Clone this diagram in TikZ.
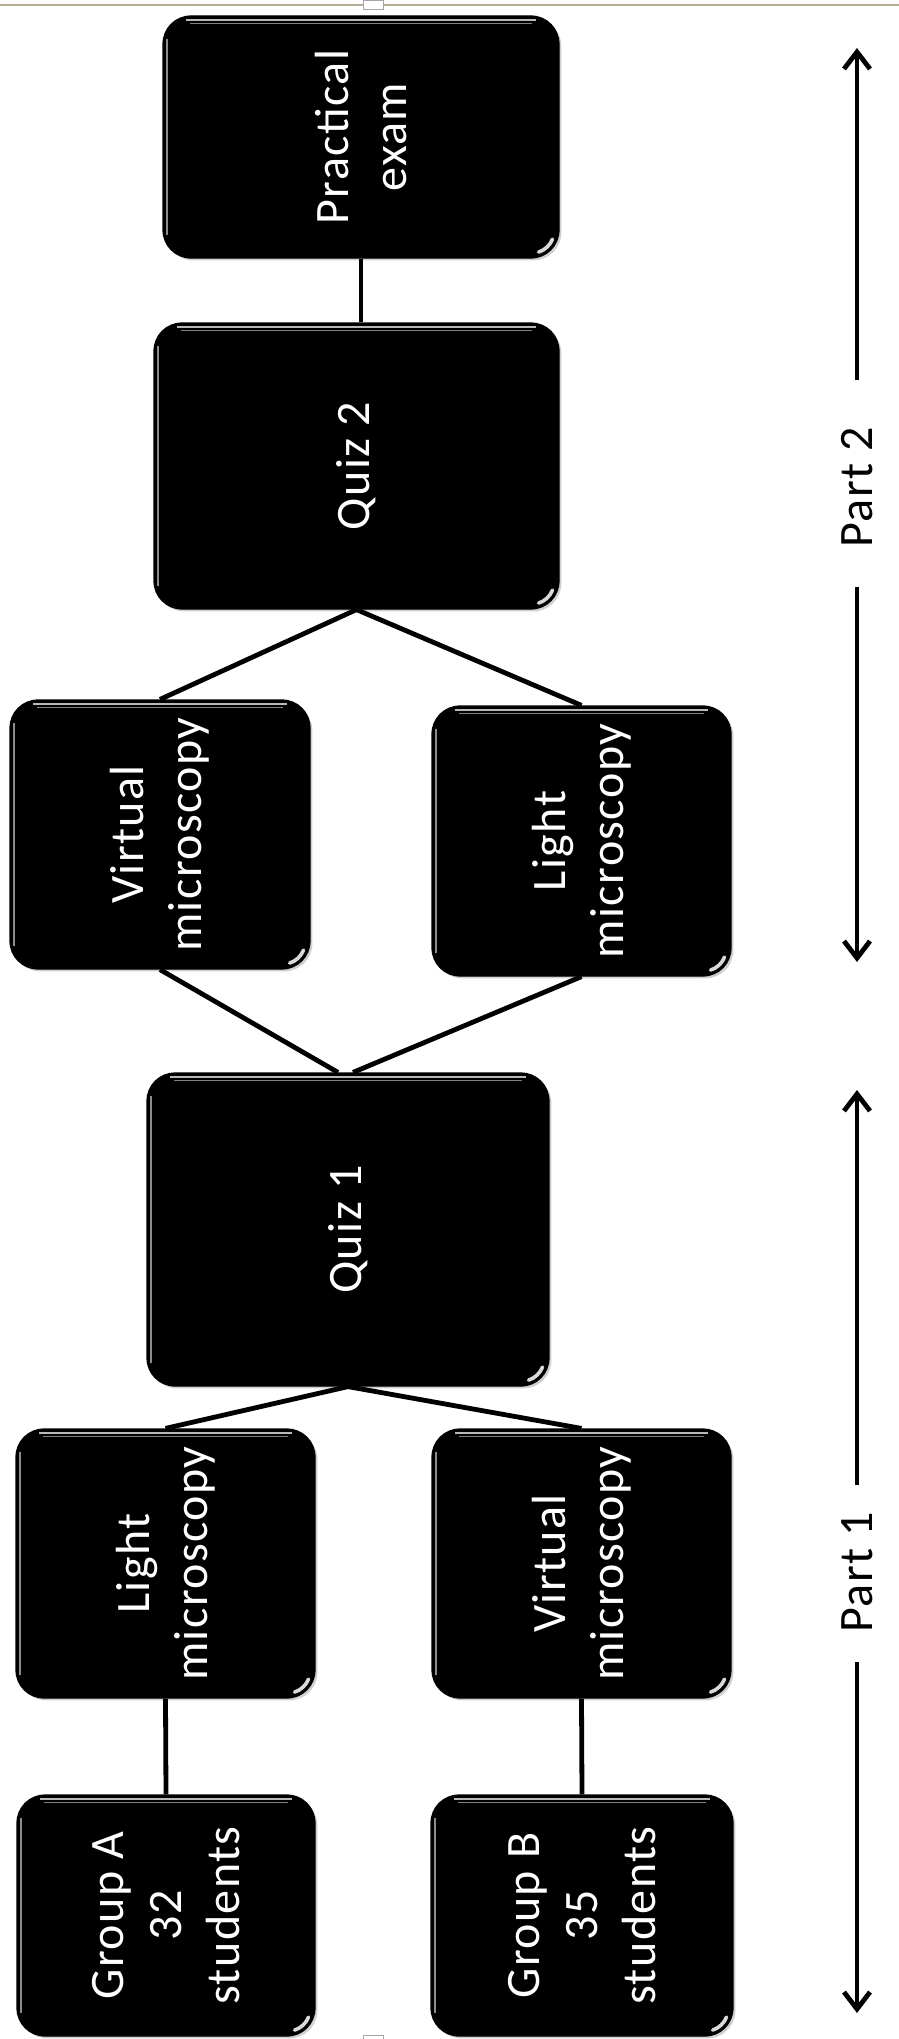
\documentclass[tikz,border=0pt]{standalone}
\usepackage{fontspec}
\setmainfont{Carlito}[LetterSpace=3]
\usetikzlibrary{arrows.meta,fit,shadows}
\tikzset{
  box/.style={fill=black, draw=black, line width=0.6pt, rounded corners=14pt, inner sep=0pt,
    drop shadow={shadow xshift=1.2pt, shadow yshift=-1.2pt, opacity=0.3, fill=black!60}},
  lbl/.style={rotate=90, text=white, align=center, inner sep=0pt,
    font=\fontsize{24}{29}\selectfont},
  partlbl/.style={rotate=90, inner sep=0pt, font=\fontsize{24}{29}\selectfont},
  link/.style={line width=2.4pt, draw=black},
  span/.style={line width=2.4pt, draw=black,
    -{Straight Barb[length=8.5pt,width=13pt,line width=2.4pt]}}
}
\newcommand\boxgloss[1]{%
  \draw[white!72!black, line width=0.8pt]
    ([xshift=12pt,yshift=-2.2pt]#1.north west) -- ([xshift=-12pt,yshift=-2.2pt]#1.north east);
  \draw[white!50!black, line width=0.6pt]
    ([xshift=14pt,yshift=-4.2pt]#1.north west) -- ([xshift=-14pt,yshift=-4.2pt]#1.north east);
  \draw[white!55!black, line width=0.8pt]
    ([xshift=2.2pt,yshift=-12pt]#1.north west) -- ([xshift=2.2pt,yshift=12pt]#1.south west);
  \draw[white!85!black, line width=1.8pt, line cap=round]
    ([xshift=-14pt,yshift=14pt]#1.south east) ++(-72:11.3pt)
    arc[start angle=-72, end angle=-22, radius=11.3pt];
}
\begin{document}
\begin{tikzpicture}[x=0.5pt, y=-0.5pt]
\useasboundingbox[fill=white] (0,0) rectangle (899,2039);

% page edge line
\draw[color={rgb,255:red,181;green,173;blue,149}, line width=0.7pt] (0,5) -- (899,5);
\draw[fill=white, draw=black!35, line width=0.4pt] (363,0) rectangle (383,9);
\draw[fill=white, draw=black!35, line width=0.4pt] (363,2035) rectangle (383,2045);

\coordinate (pe1) at (163,16);   \coordinate (pe2) at (559,258);
\coordinate (q21) at (154,323);  \coordinate (q22) at (559,609);
\coordinate (vb1) at (10,700);   \coordinate (vb2) at (310,969);
\coordinate (lb1) at (432,706);  \coordinate (lb2) at (731,976);
\coordinate (q11) at (147,1073); \coordinate (q12) at (549,1386);
\coordinate (la1) at (16,1429);  \coordinate (la2) at (315,1698);
\coordinate (va1) at (432,1429); \coordinate (va2) at (731,1698);
\coordinate (ga1) at (17,1795);  \coordinate (ga2) at (315,2036);
\coordinate (gb1) at (431,1795); \coordinate (gb2) at (733,2036);

\node[box, fit=(pe1)(pe2)] (pe) {};
\node[box, fit=(q21)(q22)] (q2) {};
\node[box, fit=(vb1)(vb2)] (vm2) {};
\node[box, fit=(lb1)(lb2)] (lm2) {};
\node[box, fit=(q11)(q12)] (q1) {};
\node[box, fit=(la1)(la2)] (lm1) {};
\node[box, fit=(va1)(va2)] (vm1) {};
\node[box, fit=(ga1)(ga2)] (ga) {};
\node[box, fit=(gb1)(gb2)] (gb) {};

\foreach \n in {pe,q2,vm2,lm2,q1,lm1,vm1,ga,gb} {\boxgloss{\n}}

\node[lbl] (pet) at (pe) {Practical\\exam};
\node[lbl] (q2t) at (q2) {Quiz 2};
\node[lbl] (vm2t) at (vm2) {Virtual\\microscopy};
\node[lbl] (lm2t) at (lm2) {Light\\microscopy};
\node[lbl] (q1t) at (q1) {Quiz 1};
\node[lbl] (lm1t) at (lm1) {Light\\microscopy};
\node[lbl] (vm1t) at (vm1) {Virtual\\microscopy};
\node[lbl] (gat) at (ga) {Group A\\32\\students};
\node[lbl] (gbt) at (gb) {Group B\\35\\students};

% connectors
\draw[link] (pe.south) -- (pe.south |- q2.north);
\draw[link] (q2.south) -- (vm2.north);
\draw[link] (q2.south) -- (lm2.north);
\draw[link] (vm2.south) -- ([xshift=-5pt]q1.north);
\draw[link] (lm2.south) -- ([xshift=2.5pt]q1.north);
\draw[link] (q1.south) -- (lm1.north);
\draw[link] (q1.south) -- (vm1.north);
\draw[link] (lm1.south) -- (ga.north);
\draw[link] (vm1.south) -- (gb.north);

% part spans
\node[partlbl] (p2) at (857,487) {Part 2};
\node[partlbl] (p1) at (857,1572) {Part 1};
\coordinate (p2a) at (857,380);  \coordinate (p2t) at (857,48);
\coordinate (p2b) at (857,587);  \coordinate (p2d) at (857,962);
\coordinate (p1a) at (857,1485); \coordinate (p1t) at (857,1090);
\coordinate (p1b) at (857,1662); \coordinate (p1d) at (857,2013);
\draw[span] (p2a) -- (p2t);
\draw[span] (p2b) -- (p2d);
\draw[span] (p1a) -- (p1t);
\draw[span] (p1b) -- (p1d);
\end{tikzpicture}
\end{document}
